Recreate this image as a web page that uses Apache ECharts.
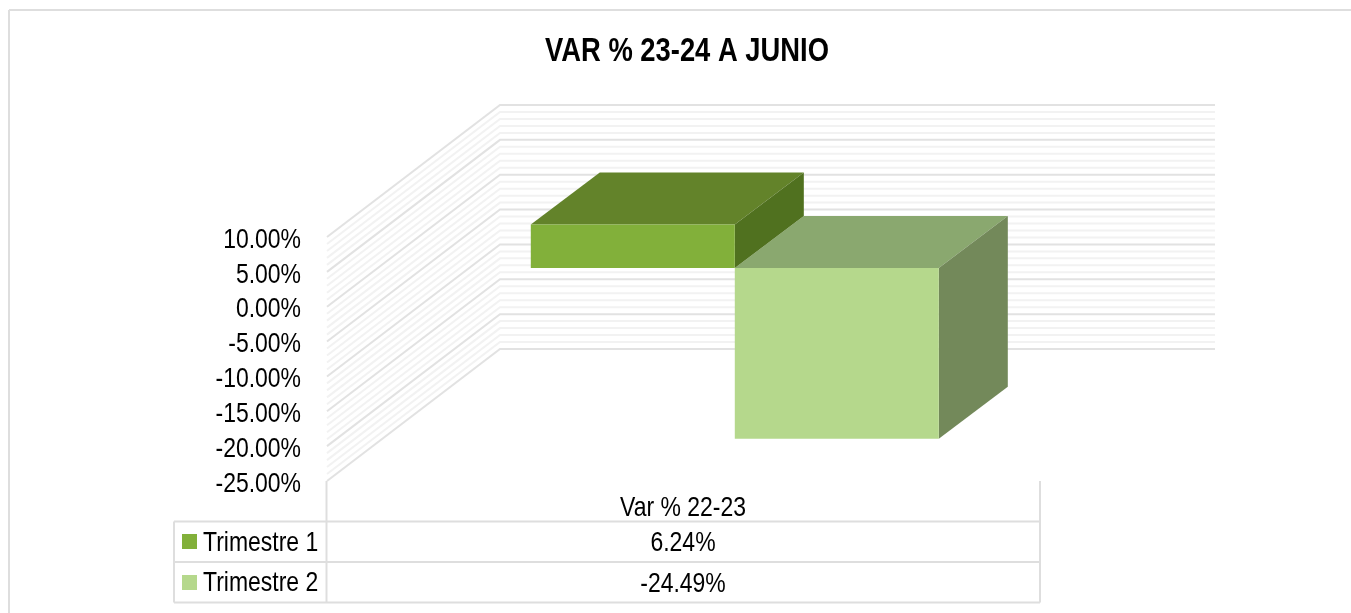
<!DOCTYPE html>
<html><head><meta charset="utf-8">
<style>html,body{margin:0;padding:0;background:#fff}#c{width:1351px;height:613px}</style>
<script src="https://cdn.jsdelivr.net/npm/echarts@6/dist/echarts.min.js"></script>
</head><body><div id="c"></div>
<script>
var categories = ['Var % 22-23'];
var trimestre1 = [6.24];
var trimestre2 = [-24.49];
var seriesNames = ['Trimestre 1', 'Trimestre 2'];
var seriesColors = ['#82b03a', '#b5d88c'];
var tickValues = [-25, -20, -15, -10, -5, 0, 5, 10];
var titleText = 'VAR % 23-24 A JUNIO';
var FONT = '"Liberation Sans",Arial,sans-serif';
var SQ = 0.82;   // horizontal squeeze of the reference's condensed text

var WALL_DX = 173, WALL_DY = 132;
var BAR_W = 204, BAR_SX = 51.3, BAR_SY = 38.6, BAR_DX = 69, BAR_DY = 52;
var tbl = {l:174, m:326.5, r:1040, y0:481, y1:521.5, y2:562, y3:602.5};

var chart = echarts.init(document.getElementById('c'), null, {renderer:'canvas'});

function gridLines(params, api) {
  var v = api.value(0), isMajor = api.value(1) === 1;
  var a = api.coord([0, v]);
  var cs = params.coordSys;
  var x0 = cs.x, x1 = cs.x + cs.width;
  return {type:'polyline', silent:true,
    shape:{points:[[x0, a[1]], [x0+WALL_DX, a[1]-WALL_DY], [x1+WALL_DX+2, a[1]-WALL_DY]]},
    style:{fill:null, stroke:isMajor ? '#e2e2e2' : '#f2f2f2', lineWidth:2}};
}
function tickText(params, api) {
  var v = api.value(0);
  var a = api.coord([0, v]);
  return {type:'text', x:params.coordSys.x-26, y:a[1]+3, scaleX:SQ, silent:true,
    style:{text:v.toFixed(2)+'%', fill:'#000', font:'28px '+FONT, textAlign:'right', textVerticalAlign:'middle'}};
}
function bar3d(front, top, side, dir) {
  return function (params, api) {
    var val = api.value(1);
    var zero = api.coord([0, 0]), end = api.coord([0, val]);
    var xA = zero[0]+BAR_SX + (dir<0 ? -BAR_W : 0), xB = xA + BAR_W;
    var yT = Math.min(zero[1], end[1])-BAR_SY, yB = Math.max(zero[1], end[1])-BAR_SY;
    function poly(p, c){return {type:'polygon', shape:{points:p}, style:{fill:c}};}
    return {type:'group', children:[
      poly([[xA,yT],[xB,yT],[xB+BAR_DX,yT-BAR_DY],[xA+BAR_DX,yT-BAR_DY]], top),
      poly([[xB,yT],[xB+BAR_DX,yT-BAR_DY],[xB+BAR_DX,yB-BAR_DY],[xB,yB]], side),
      poly([[xA,yT],[xB,yT],[xB,yB],[xA,yB]], front)
    ]};
  };
}
var levels = [];
for (var k = -25; k <= 10; k++) levels.push([k, k % 5 === 0 ? 1 : 0]);

function fmt(v){return v.toFixed(2)+'%';}
function line(x1,y1,x2,y2){return {type:'line',shape:{x1:x1,y1:y1,x2:x2,y2:y2},style:{stroke:'#dedede',lineWidth:2},silent:true,z:1};}
function txt(x,y,t,align){return {type:'text',x:x,y:y,scaleX:SQ,style:{text:t,fill:'#000',font:'28px '+FONT,textAlign:align||'center',textVerticalAlign:'middle'},z:5};}
function swatch(x,y,c){return {type:'rect',shape:{x:x,y:y,width:15,height:15},style:{fill:c},z:5};}

chart.setOption({
  animation:false,
  backgroundColor:'#fff',
  grid:{left:327,top:237,width:713,height:244,containLabel:false},
  xAxis:{type:'category',data:categories,
    axisLine:{show:false},axisTick:{show:false},splitLine:{show:false},axisLabel:{show:false}},
  yAxis:{type:'value',min:-25,max:10,interval:5,
    axisLine:{show:false},axisTick:{show:false},splitLine:{show:false},axisLabel:{show:false}},
  graphic:{elements:[
    {type:'text',x:687,y:52,scaleX:0.805,style:{text:titleText,fill:'#000',font:'bold 34px '+FONT,textAlign:'center',textVerticalAlign:'middle'},z:5},
    line(9,10,1351,10), line(9,10,9,613),
    line(tbl.m,tbl.y0,tbl.m,tbl.y3), line(tbl.r,tbl.y0,tbl.r,tbl.y3),
    line(tbl.l,tbl.y1,tbl.r,tbl.y1), line(tbl.l,tbl.y2,tbl.r,tbl.y2), line(tbl.l,tbl.y3,tbl.r,tbl.y3),
    line(tbl.l,tbl.y1,tbl.l,tbl.y3),
    txt(683,508,categories[0]),
    swatch(182,534,seriesColors[0]), txt(203,543,seriesNames[0],'left'), txt(683,543,fmt(trimestre1[0])),
    swatch(182,575,seriesColors[1]), txt(203,583,seriesNames[1],'left'), txt(683,584,fmt(trimestre2[0]))
  ]},
  series:[
    {type:'custom',name:'grid',coordinateSystem:'cartesian2d',silent:true,encode:{y:0},
     data:levels,renderItem:gridLines,z:1},
    {type:'custom',name:'ticks',coordinateSystem:'cartesian2d',silent:true,encode:{y:0},clip:false,
     data:tickValues.map(function(v){return [v];}),renderItem:tickText,z:4},
    {type:'custom',name:seriesNames[0],coordinateSystem:'cartesian2d',z:3,
     data:[[0,trimestre1[0]]],encode:{x:0,y:1},
     renderItem:bar3d(seriesColors[0],'#63832a','#50711f',-1)},
    {type:'custom',name:seriesNames[1],coordinateSystem:'cartesian2d',z:2,
     data:[[0,trimestre2[0]]],encode:{x:0,y:1},
     renderItem:bar3d(seriesColors[1],'#8aa86f','#73895a',1)}
  ]
});
</script></body></html>
